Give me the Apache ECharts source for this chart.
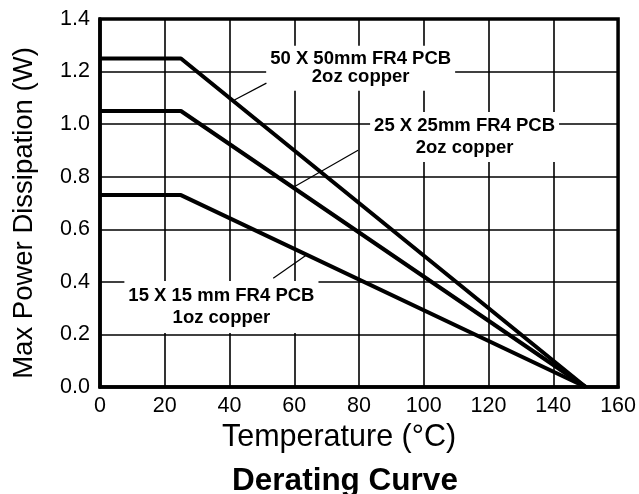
<!DOCTYPE html>
<html>
<head>
<meta charset="utf-8">
<script src="https://cdn.jsdelivr.net/npm/echarts@6/dist/echarts.min.js"></script>
<style>
  html, body { margin: 0; padding: 0; background: #fff; }
  #chart { width: 639px; height: 494px; }
</style>
</head>
<body>
<div id="chart"></div>
<script>
// ---- data ----
const xTicks = [0, 20, 40, 60, 80, 100, 120, 140, 160];
const yTicks = [0.0, 0.2, 0.4, 0.6, 0.8, 1.0, 1.2, 1.4];
const temps = [0, 25, 150];
const pcb50 = [1.25, 1.25, 0];
const pcb25 = [1.05, 1.05, 0];
const pcb15 = [0.73, 0.73, 0];
const seriesNames = ['50 X 50mm FR4 PCB\n2oz copper', '25 X 25mm FR4 PCB\n2oz copper', '15 X 15 mm FR4 PCB\n1oz copper'];
// annotation anchors in data units [temperature, power]
const labelAnchors = [[80.5, 1.213], [112.6, 0.951], [37.5, 0.304]];
const leaderStart = [[51.4, 1.156], [79.7, 0.901], [53.5, 0.414]];
const leaderEnd = [[41.5, 1.092], [60.0, 0.762], [64.0, 0.504]];

const FONT = "'Liberation Sans', Arial, sans-serif";
const chart = echarts.init(document.getElementById('chart'));

function pairs(xs, ys) { return xs.map((x, i) => [x, ys[i]]); }

const curveData = [pcb50, pcb25, pcb15];
const series = [];
curveData.forEach((ys, i) => {
  series.push({
    type: 'line', name: seriesNames[i], data: pairs(temps, ys),
    showSymbol: false, symbol: 'none', silent: true, z: 5,
    lineStyle: { color: '#000', width: 4 }
  });
});
leaderStart.forEach((s, i) => {
  series.push({
    type: 'line', data: [s, leaderEnd[i]], showSymbol: false, symbol: 'none',
    silent: true, z: 4, lineStyle: { color: '#000', width: 1.2 }
  });
});
const lineHeights = [18, 22, 22];
const pads = [[6, 4, 3, 4], [3, 4, 3, 4], [4, 4, 4, 4]];
labelAnchors.forEach((p, i) => {
  series.push({
    type: 'scatter', data: [p], symbolSize: 0, silent: true, z: 3,
    itemStyle: { opacity: 1 },
    label: {
      show: true, position: 'inside', formatter: seriesNames[i],
      fontFamily: FONT, fontWeight: 'bold', fontSize: 18.5, color: '#000', opacity: 1,
      lineHeight: lineHeights[i], align: 'center',
      backgroundColor: '#fff', padding: pads[i]
    }
  });
});

chart.setOption({
  animation: false,
  backgroundColor: '#fff',
  title: {
    text: 'Derating Curve', left: 340, top: 460, textAlign: 'center',
    textStyle: { fontFamily: FONT, fontWeight: 'bold', fontSize: 31.5, color: '#000' }
  },
  grid: {
    left: 100, right: 19, top: 19, bottom: 107,
    show: true, borderColor: '#000', borderWidth: 3.5, backgroundColor: 'transparent'
  },
  xAxis: {
    type: 'value', min: xTicks[0], max: xTicks[xTicks.length - 1],
    interval: xTicks[1] - xTicks[0],
    name: 'Temperature (°C)', nameLocation: 'middle', nameGap: 32,
    nameTextStyle: { fontFamily: FONT, fontSize: 30.5, color: '#000', padding: [0, 40, 0, 0] },
    axisLine: { show: true, onZero: false, lineStyle: { color: '#000', width: 3.5 } },
    axisTick: { show: false },
    axisLabel: { fontFamily: FONT, fontSize: 21.5, color: '#000', margin: 8 },
    splitLine: { show: true, lineStyle: { color: '#000', width: 1.6 } }
  },
  yAxis: {
    type: 'value', min: yTicks[0], max: yTicks[yTicks.length - 1],
    interval: 0.2,
    name: 'Max Power Dissipation (W)', nameLocation: 'middle', nameGap: 62,
    nameTextStyle: { fontFamily: FONT, fontSize: 27.5, color: '#000', padding: [0, 20, 0, 0] },
    axisLine: { show: true, onZero: false, lineStyle: { color: '#000', width: 3.5 } },
    axisTick: { show: false },
    axisLabel: { fontFamily: FONT, fontSize: 21.5, color: '#000', margin: 10,
      formatter: v => v.toFixed(1) },
    splitLine: { show: true, lineStyle: { color: '#000', width: 1.6 } }
  },
  series: series
});
</script>
</body>
</html>
